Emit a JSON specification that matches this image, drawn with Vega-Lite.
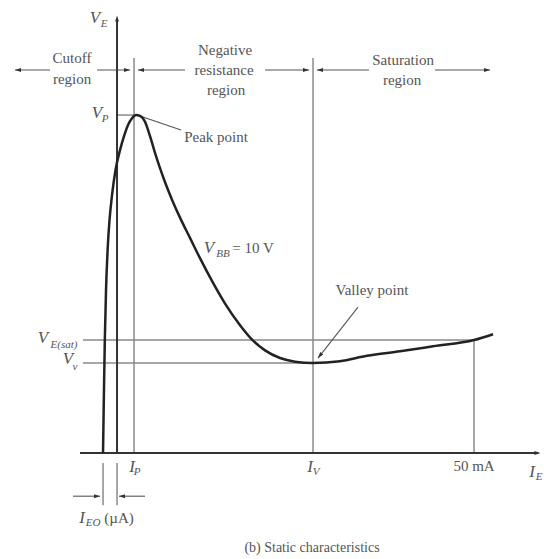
{
  "$schema": "https://vega.github.io/schema/vega-lite/v6.json",
  "width": 544,
  "height": 559,
  "padding": 0,
  "autosize": {"type": "none"},
  "background": "white",
  "config": {"view": {"stroke": null}},
  "datasets": {
    "curve": [
      {"x": -1.96, "y": 0}, {"x": -1.85, "y": 1.18}, {"x": -1.71, "y": 2.51},
      {"x": -1.54, "y": 3.62}, {"x": -1.32, "y": 4.51}, {"x": -1.05, "y": 5.18},
      {"x": -0.70, "y": 5.73}, {"x": -0.21, "y": 6.29}, {"x": 0.42, "y": 6.73},
      {"x": 0.98, "y": 7.04}, {"x": 1.54, "y": 7.29}, {"x": 2.10, "y": 7.44},
      {"x": 2.66, "y": 7.51}, {"x": 3.22, "y": 7.49}, {"x": 3.92, "y": 7.36},
      {"x": 4.62, "y": 7.04}, {"x": 5.32, "y": 6.67}, {"x": 6.02, "y": 6.33},
      {"x": 6.86, "y": 5.96}, {"x": 7.70, "y": 5.63}, {"x": 8.82, "y": 5.23},
      {"x": 10.22, "y": 4.78}, {"x": 11.62, "y": 4.33}, {"x": 13.45, "y": 3.78},
      {"x": 15.13, "y": 3.32}, {"x": 17.23, "y": 2.84}, {"x": 18.91, "y": 2.52},
      {"x": 20.73, "y": 2.28}, {"x": 22.83, "y": 2.11}, {"x": 24.93, "y": 2.03},
      {"x": 27.45, "y": 2.00}, {"x": 31.23, "y": 2.04}, {"x": 35.01, "y": 2.16},
      {"x": 39.64, "y": 2.26}, {"x": 44.26, "y": 2.37}, {"x": 50.00, "y": 2.51},
      {"x": 52.66, "y": 2.64}
    ],
    "segments": [
      {"kind": "guide", "x": 2.38, "y": 8.78, "x2": 2.38, "y2": 0},
      {"kind": "guide", "x": 27.45, "y": 8.78, "x2": 27.45, "y2": 0},
      {"kind": "guide", "x": 50, "y": 2.51, "x2": 50, "y2": 0},
      {"kind": "guide", "x": -4.76, "y": 2.51, "x2": 50, "y2": 2.51},
      {"kind": "guide", "x": -4.76, "y": 2.0, "x2": 27.45, "y2": 2.0},
      {"kind": "guide", "x": 0, "y": 7.51, "x2": 2.6, "y2": 7.51},
      {"kind": "guide", "x": -1.96, "y": -0.22, "x2": -1.96, "y2": -1.16},
      {"kind": "guide", "x": 0, "y": -0.22, "x2": 0, "y2": -1.16},
      {"kind": "axis", "x": 0, "y": 0, "x2": 0, "y2": 9.6},
      {"kind": "axis", "x": -5.18, "y": 0, "x2": 59.0, "y2": 0},
      {"kind": "arrow", "x": -14.29, "y": 8.51, "x2": -9.38, "y2": 8.51},
      {"kind": "arrow", "x": -2.80, "y": 8.51, "x2": 1.82, "y2": 8.51},
      {"kind": "arrow", "x": 2.94, "y": 8.51, "x2": 9.52, "y2": 8.51},
      {"kind": "arrow", "x": 20.73, "y": 8.51, "x2": 26.89, "y2": 8.51},
      {"kind": "arrow", "x": 28.01, "y": 8.51, "x2": 35.29, "y2": 8.51},
      {"kind": "arrow", "x": 44.54, "y": 8.51, "x2": 52.24, "y2": 8.51},
      {"kind": "arrow", "x": -6.16, "y": -0.96, "x2": -2.38, "y2": -0.96},
      {"kind": "arrow", "x": 3.92, "y": -0.96, "x2": 0.28, "y2": -0.96},
      {"kind": "arrow", "x": 3.22, "y": 7.49, "x2": 8.96, "y2": 7.18},
      {"kind": "arrow", "x": 33.75, "y": 3.24, "x2": 28.15, "y2": 2.11}
    ],
    "heads": [
      {"dir": "up", "x": 0, "y": 9.72},
      {"dir": "right", "x": 59.3, "y": 0},
      {"dir": "left", "x": -14.29, "y": 8.51},
      {"dir": "right", "x": 1.82, "y": 8.51},
      {"dir": "left", "x": 2.94, "y": 8.51},
      {"dir": "right", "x": 26.89, "y": 8.51},
      {"dir": "left", "x": 28.01, "y": 8.51},
      {"dir": "right", "x": 52.24, "y": 8.51},
      {"dir": "right", "x": -2.38, "y": -0.96},
      {"dir": "left", "x": 0.28, "y": -0.96},
      {"dir": "down-left", "x": 28.15, "y": 2.11}
    ],
    "labels": [
      {"role": "symbol", "text": "V", "x": -3.08, "y": 9.67},
      {"role": "sub", "text": "E", "x": -1.82, "y": 9.53},
      {"role": "symbol", "text": "V", "x": -2.80, "y": 7.56},
      {"role": "sub", "text": "P", "x": -1.68, "y": 7.42},
      {"role": "symbol", "text": "V", "x": 12.89, "y": 4.56},
      {"role": "sub", "text": "BB", "x": 14.85, "y": 4.42},
      {"role": "plain", "text": "= 10 V", "x": 19.05, "y": 4.56},
      {"role": "symbol", "text": "V", "x": -10.36, "y": 2.56},
      {"role": "sub", "text": "E(sat)", "x": -7.42, "y": 2.40},
      {"role": "symbol", "text": "V", "x": -6.86, "y": 2.09},
      {"role": "sub", "text": "v", "x": -5.88, "y": 1.91},
      {"role": "symbol", "text": "I", "x": 2.10, "y": -0.31},
      {"role": "sub", "text": "P", "x": 2.80, "y": -0.42},
      {"role": "symbol", "text": "I", "x": 27.03, "y": -0.31},
      {"role": "sub", "text": "V", "x": 27.87, "y": -0.42},
      {"role": "plain", "text": "50 mA", "x": 50.0, "y": -0.29},
      {"role": "symbol", "text": "I", "x": 58.12, "y": -0.42},
      {"role": "sub", "text": "E", "x": 59.1, "y": -0.53},
      {"role": "symbol", "text": "I", "x": -4.90, "y": -1.44},
      {"role": "sub", "text": "EO", "x": -3.36, "y": -1.56},
      {"role": "plain", "text": "(µA)", "x": 0.28, "y": -1.44},
      {"role": "plain", "text": "Cutoff", "x": -6.30, "y": 8.78},
      {"role": "plain", "text": "region", "x": -6.30, "y": 8.31},
      {"role": "plain", "text": "Negative", "x": 15.13, "y": 8.96},
      {"role": "plain", "text": "resistance", "x": 14.99, "y": 8.51},
      {"role": "plain", "text": "region", "x": 15.27, "y": 8.07},
      {"role": "plain", "text": "Saturation", "x": 40.06, "y": 8.73},
      {"role": "plain", "text": "region", "x": 39.92, "y": 8.29},
      {"role": "plain", "text": "Peak point", "x": 13.87, "y": 7.02},
      {"role": "plain", "text": "Valley point", "x": 35.71, "y": 3.62},
      {"role": "caption", "text": "(b) Static characteristics", "x": 27.31, "y": -2.11}
    ]
  },
  "encoding": {
    "x": {"field": "x", "type": "quantitative", "axis": null,
          "scale": {"domain": [-16.39, 59.8], "nice": false, "zero": false}},
    "y": {"field": "y", "type": "quantitative", "axis": null,
          "scale": {"domain": [-2.356, 10.067], "nice": false, "zero": false}}
  },
  "layer": [
    {
      "data": {"name": "segments"},
      "transform": [{"filter": "datum.kind == 'guide'"}],
      "mark": {"type": "rule", "color": "#8a8a8a", "strokeWidth": 1.5},
      "encoding": {"x2": {"field": "x2"}, "y2": {"field": "y2"}}
    },
    {
      "data": {"name": "segments"},
      "transform": [{"filter": "datum.kind == 'arrow'"}],
      "mark": {"type": "rule", "color": "#555555", "strokeWidth": 1.1},
      "encoding": {"x2": {"field": "x2"}, "y2": {"field": "y2"}}
    },
    {
      "data": {"name": "segments"},
      "transform": [{"filter": "datum.kind == 'axis'"}],
      "mark": {"type": "rule", "color": "#333333", "strokeWidth": 2},
      "encoding": {"x2": {"field": "x2"}, "y2": {"field": "y2"}}
    },
    {
      "data": {"name": "heads"},
      "mark": {"type": "point", "filled": true, "color": "#333333", "opacity": 1, "size": 36, "strokeWidth": 0},
      "encoding": {
        "shape": {
          "field": "dir", "type": "nominal", "legend": null,
          "scale": {
            "domain": ["up", "right", "left", "down-left"],
            "range": ["M0,0L-0.65,2L0.65,2Z", "M0,0L-2,-0.65L-2,0.65Z", "M0,0L2,-0.65L2,0.65Z", "M0,0L1.75,-1.17L0.72,-1.98Z"]
          }
        }
      }
    },
    {
      "data": {"name": "curve"},
      "mark": {"type": "line", "color": "#222222", "strokeWidth": 2.5, "interpolate": "monotone"}
    },
    {
      "data": {"name": "labels"},
      "transform": [{"filter": "datum.role == 'symbol'"}],
      "mark": {"type": "text", "font": "Liberation Serif", "fontStyle": "italic", "fontSize": 17, "color": "#555555", "align": "center", "baseline": "middle"},
      "encoding": {"text": {"field": "text"}}
    },
    {
      "data": {"name": "labels"},
      "transform": [{"filter": "datum.role == 'sub'"}],
      "mark": {"type": "text", "font": "Liberation Serif", "fontStyle": "italic", "fontSize": 11, "color": "#555555", "align": "center", "baseline": "middle"},
      "encoding": {"text": {"field": "text"}}
    },
    {
      "data": {"name": "labels"},
      "transform": [{"filter": "datum.role == 'plain'"}],
      "mark": {"type": "text", "font": "Liberation Serif", "fontSize": 15, "color": "#555555", "align": "center", "baseline": "middle"},
      "encoding": {"text": {"field": "text"}}
    },
    {
      "data": {"name": "labels"},
      "transform": [{"filter": "datum.role == 'caption'"}],
      "mark": {"type": "text", "font": "Liberation Serif", "fontSize": 14, "color": "#555555", "align": "center", "baseline": "middle"},
      "encoding": {"text": {"field": "text"}}
    }
  ]
}
